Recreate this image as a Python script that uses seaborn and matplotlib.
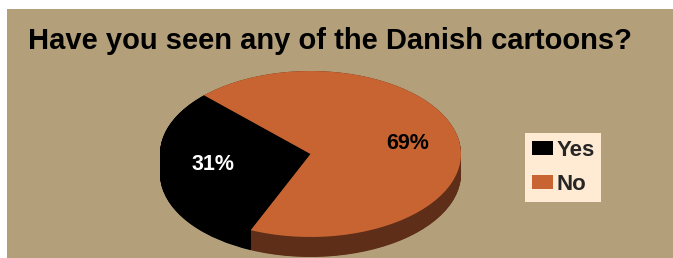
import numpy as np
import matplotlib
matplotlib.use("Agg")
import matplotlib.pyplot as plt
import seaborn as sns
from matplotlib.patches import Rectangle

# ---- data ----
categories = ["Yes", "No"]
values = [31, 69]
title = "Have you seen any of the Danish cartoons?"

top_colors = ["#000000", "#C76432"]
side_colors = ["#000000", "#5E2E18"]
bg_tan = "#B3A07B"
legend_bg = "#FFEBD3"

sns.set_theme(style="white")
plt.rcParams["font.family"] = ["Liberation Sans", "DejaVu Sans"]

W, H = 673, 258
fig = plt.figure(figsize=(W / 100, H / 100), dpi=100)
fig.patch.set_facecolor("white")
bg = Rectangle((7 / W, 0), 1, 1 - 9 / H, transform=fig.transFigure,
               facecolor=bg_tan, edgecolor="none", zorder=-10)
fig.patches.append(bg)

# pie axes: top face ellipse spans x 160..461, y 71..237 (pixels from top)
ax = fig.add_axes([160 / W, (H - 237) / H, 301 / W, 166 / H])
ax.set_zorder(1)
ax.patch.set_visible(False)

depth = 20 / 83.0
for d in np.linspace(depth, 0.0, 40):
    w, _ = ax.pie(values, colors=side_colors, startangle=135, counterclock=True,
                  center=(0, -d), radius=1, wedgeprops=dict(linewidth=0))
    for p in w:
        p.set_clip_on(False)

wedges, _, autotexts = ax.pie(values, colors=top_colors, startangle=135, counterclock=True,
                              labels=categories, labeldistance=None,
                              autopct="%d%%", pctdistance=0.66,
                              wedgeprops=dict(linewidth=0))
for p in wedges:
    p.set_clip_on(False)
txt_colors = ["white", "black"]
for t, c in zip(autotexts, txt_colors):
    t.set_color(c)
    t.set_fontsize(15.5)
    t.set_fontweight("bold")
    t.set_family(["Liberation Sans", "DejaVu Sans"])

ax.set_aspect("auto")
ax.set_xlim(-1, 1)
ax.set_ylim(-1, 1)
ax.axis("off")

fig.text(28 / W, (H - 49) / H, title, fontsize=21, fontweight="bold",
         color="black", ha="left", va="baseline", zorder=5)

leg = fig.legend(wedges, categories, loc="upper left",
                 bbox_to_anchor=(525 / W, (H - 133) / H),
                 frameon=True, fancybox=False, framealpha=1,
                 facecolor=legend_bg, edgecolor="none",
                 prop=dict(family=["Liberation Sans"], weight="bold", size=16),
                 handlelength=0.95, handleheight=0.59, handletextpad=0.15,
                 labelspacing=0.6, borderpad=0.3, borderaxespad=0)
leg.get_frame().set_linewidth(0)
leg.set_zorder(5)

fig.savefig("out.png", dpi=100, facecolor=fig.get_facecolor())
